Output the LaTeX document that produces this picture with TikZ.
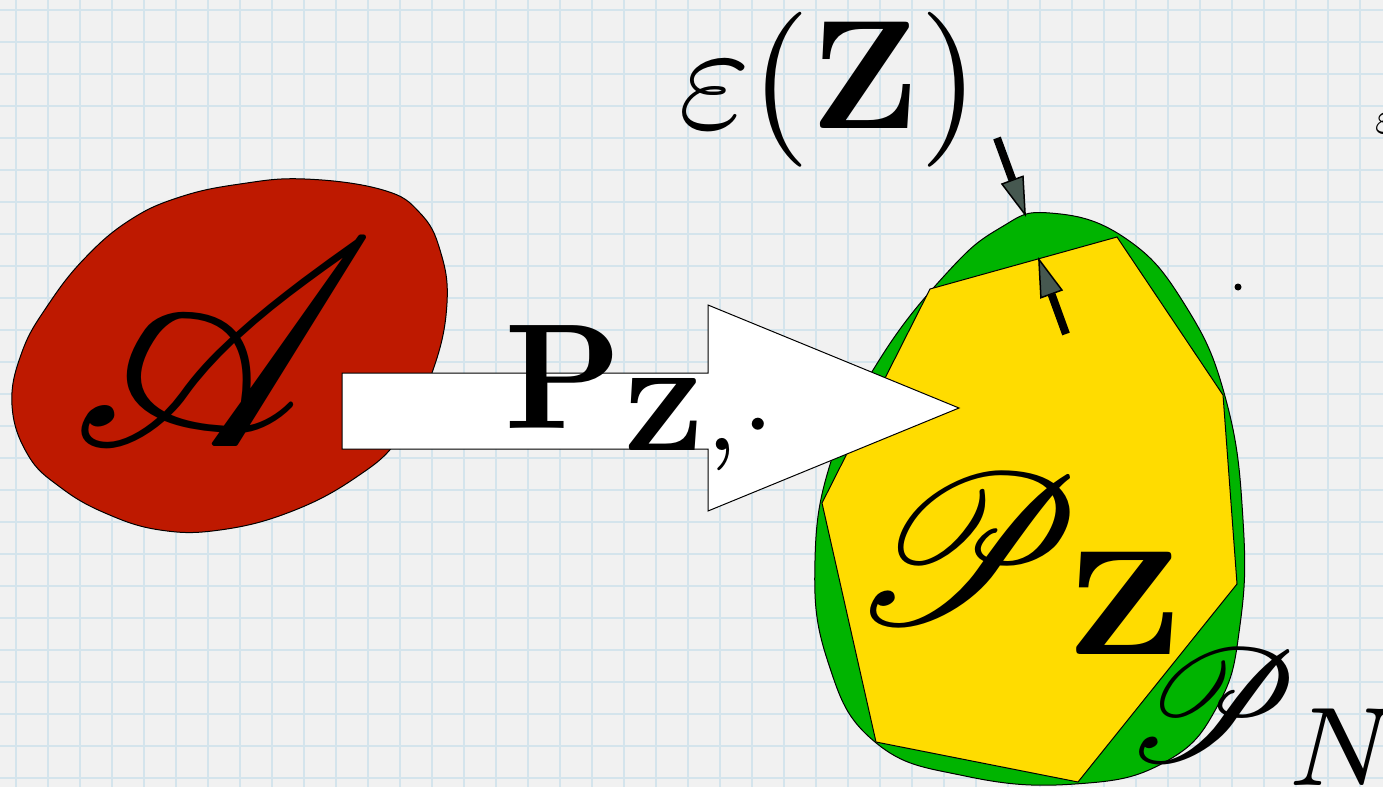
\documentclass[tikz,border=0pt]{standalone}
\usepackage{amsmath}
\usepackage{mathrsfs}
\usetikzlibrary{arrows.meta}
\definecolor{bg}{RGB}{241,241,241}
\definecolor{gridc}{RGB}{212,228,236}
\definecolor{blobred}{RGB}{190,25,0}
\definecolor{egggreen}{RGB}{0,180,0}
\definecolor{polyyellow}{RGB}{255,220,0}
\definecolor{headgray}{RGB}{70,88,80}
\begin{document}
\begin{tikzpicture}[x=1pt,y=-1pt,
  gridline/.style={draw=gridc,line width=1.5pt},
  shapeline/.style={draw=black,line width=1pt},
  bigarrow/.style={line width=8pt,-{Triangle[length=40pt,width=24pt,fill=headgray,line width=1.5pt]}},
  lbl/.style={inner sep=0pt,anchor=base west},
]
\useasboundingbox (0,0) rectangle (1383,787);
\fill[bg] (0,0) rectangle (1383,787);
\foreach \i in {0,...,43} {\draw[gridline] ({16+32*\i},0) -- ({16+32*\i},787);}
\foreach \j in {0,...,24} {\draw[gridline] (0,{10+32*\j}) -- (1383,{10+32*\j});}

% red blob
\draw[shapeline,fill=blobred] plot[smooth cycle,tension=0.7] coordinates {
 (305,179) (383,190) (420,213) (440,250) (447,303) (433,370) (400,437)
 (355,478) (290,512) (220,530) (160,530) (105,513) (60,487) (28,455)
 (12,405) (22,352) (48,305) (85,258) (130,220) (180,197) (240,184)};

% green egg
\draw[shapeline,fill=egggreen] plot[smooth cycle,tension=0.75] coordinates {
 (1050,213) (1125,238) (1185,305) (1226,400) (1243,520) (1240,625) (1218,705)
 (1165,762) (1075,784) (965,776) (875,742) (828,662) (815,560) (833,455)
 (878,362) (945,275) (1000,228)};

% yellow polygon
\coordinate (p1) at (930,289);
\coordinate (p2) at (1117,237);
\coordinate (p3) at (1223,395);
\coordinate (p4) at (1237,584);
\coordinate (p5) at (1078,782);
\coordinate (p6) at (876,742);
\coordinate (p7) at (822,503);
\draw[shapeline,fill=polyyellow] (p1) -- (p2) -- (p3) -- (p4) -- (p5) -- (p6) -- (p7) -- cycle;

% labels inside egg
\node[lbl,scale=21.3] (pz) at (846,623) {$\mathscr{P}_{\mathbf{Z}}$};
\node[lbl,scale=16] (pn) at (1121,761) {$\mathscr{P}_{N}$};

% white arrow
\coordinate (a1) at (342,373);
\coordinate (a2) at (708,373);
\coordinate (a3) at (708,305);
\coordinate (a4) at (959,408);
\coordinate (a5) at (708,511);
\coordinate (a6) at (708,449);
\coordinate (a7) at (342,449);
\draw[shapeline,fill=white] (a1) -- (a2) -- (a3) -- (a4) -- (a5) -- (a6) -- (a7) -- cycle;

% script A
\node[lbl,scale=29.5] (sa) at (66,446) {$\mathscr{A}$};

% P label on arrow
\node[lbl,scale=15] (pzd) at (501,428) {$\mathbf{P}_{\mathbf{Z},\cdot}$};

% epsilon label
\node[lbl,scale=15.5] (eps) at (675,128) {$\varepsilon(\mathbf{Z})$};
\node[lbl,scale=4.8] (eps2) at (1374,133) {$\varepsilon$};

% thickness arrows
\coordinate (o1) at (997,138);
\coordinate (o2) at (1026,217);
\coordinate (i1) at (1066,334);
\coordinate (i2) at (1038,257);
\draw[bigarrow] (o1) -- (o2);
\draw[bigarrow] (i1) -- (i2);

% dot
\fill[black] (1238,287) circle (3.5);
\end{tikzpicture}
\end{document}
